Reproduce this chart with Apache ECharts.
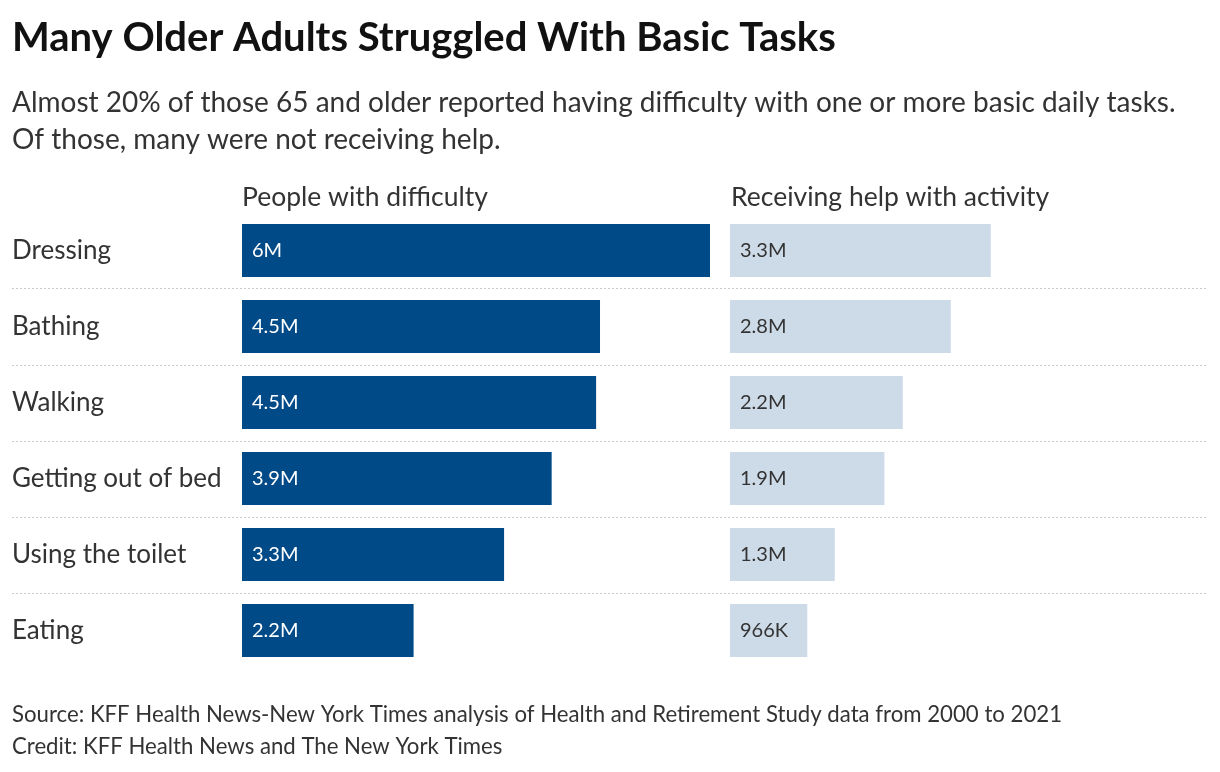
<!DOCTYPE html>
<html>
<head>
<meta charset="utf-8">
<script src="https://cdn.jsdelivr.net/npm/echarts@6/dist/echarts.min.js"></script>
<style>
html,body{margin:0;padding:0;background:#fff;}
#chart{width:1220px;height:772px;}
</style>
</head>
<body>
<div id="chart"></div>
<script>
const categories = ['Dressing', 'Bathing', 'Walking', 'Getting out of bed', 'Using the toilet', 'Eating'];
const difficultyValues = [6.0, 4.59, 4.54, 3.97, 3.36, 2.2];
const difficultyLabels = ['6M', '4.5M', '4.5M', '3.9M', '3.3M', '2.2M'];
const helpValues = [3.26, 2.76, 2.16, 1.93, 1.31, 0.966];
const helpLabels = ['3.3M', '2.8M', '2.2M', '1.9M', '1.3M', '966K'];
const separatorTicks = [1, 5];

const FONT = 'Lato';
const TXT = '#333333';

const chart = echarts.init(document.getElementById('chart'), null, {renderer: 'canvas'});

const option = {
  backgroundColor: '#ffffff',
  animation: false,
  title: [
    {text: 'Many Older Adults Struggled With Basic Tasks', left: 12, top: 18, padding: 0,
     textStyle: {fontFamily: FONT, fontWeight: 'bold', fontSize: 40, color: '#111111'}},
    {text: 'Almost 20% of those 65 and older reported having difficulty with one or more basic daily tasks.\nOf those, many were not receiving help.',
     left: 12, top: 84, padding: 0,
     textStyle: {fontFamily: FONT, fontWeight: 'normal', fontSize: 28, color: TXT, lineHeight: 37}},
    {text: 'People with difficulty', left: 242, top: 184, padding: 0,
     textStyle: {fontFamily: FONT, fontWeight: 'normal', fontSize: 26.5, color: TXT}},
    {text: 'Receiving help with activity', left: 731, top: 184, padding: 0,
     textStyle: {fontFamily: FONT, fontWeight: 'normal', fontSize: 26.5, color: TXT}},
    {text: 'Source: KFF Health News-New York Times analysis of Health and Retirement Study data from 2000 to 2021\nCredit: KFF Health News and The New York Times',
     left: 12, top: 699, padding: 0,
     textStyle: {fontFamily: FONT, fontWeight: 'normal', fontSize: 22.2, color: TXT, lineHeight: 32}}
  ],
  grid: [
    {left: 242, top: 212.5, width: 468, height: 456},
    {left: 730, top: 212.5, width: 480, height: 456},
    {left: 12, top: 288.5, width: 1196, height: 305}
  ],
  xAxis: [
    {gridIndex: 0, type: 'value', min: 0, max: 6, show: false},
    {gridIndex: 1, type: 'value', min: 0, max: 6, show: false},
    {gridIndex: 2, type: 'value', min: 0, max: 1, show: false}
  ],
  yAxis: [
    {gridIndex: 0, type: 'category', data: categories, inverse: true,
     axisLine: {show: false}, axisTick: {show: false}, splitLine: {show: false},
     axisLabel: {align: 'left', margin: 230, fontFamily: FONT, fontSize: 26, color: TXT}},
    {gridIndex: 1, type: 'category', data: categories, inverse: true, show: false},
    {gridIndex: 2, type: 'value', min: separatorTicks[0], max: separatorTicks[1], interval: 1,
     axisLine: {show: false}, axisTick: {show: false}, axisLabel: {show: false},
     splitLine: {show: true, lineStyle: {type: [2, 2], color: '#cccccc', width: 1}}}
  ],
  series: [
    {type: 'bar', xAxisIndex: 0, yAxisIndex: 0, barWidth: 53,
     data: difficultyValues,
     itemStyle: {color: '#004a87'},
     label: {show: true, position: 'insideLeft', distance: 10,
       formatter: p => difficultyLabels[p.dataIndex],
       fontFamily: FONT, fontSize: 20, color: '#ffffff'}},
    {type: 'bar', xAxisIndex: 1, yAxisIndex: 1, barWidth: 53,
     data: helpValues,
     itemStyle: {color: '#cddbe8'},
     label: {show: true, position: 'insideLeft', distance: 10,
       formatter: p => helpLabels[p.dataIndex],
       fontFamily: FONT, fontSize: 20, color: TXT}},
    {type: 'line', xAxisIndex: 2, yAxisIndex: 2, data: [], silent: true}
  ]
};
chart.setOption(option);
</script>
</body>
</html>
